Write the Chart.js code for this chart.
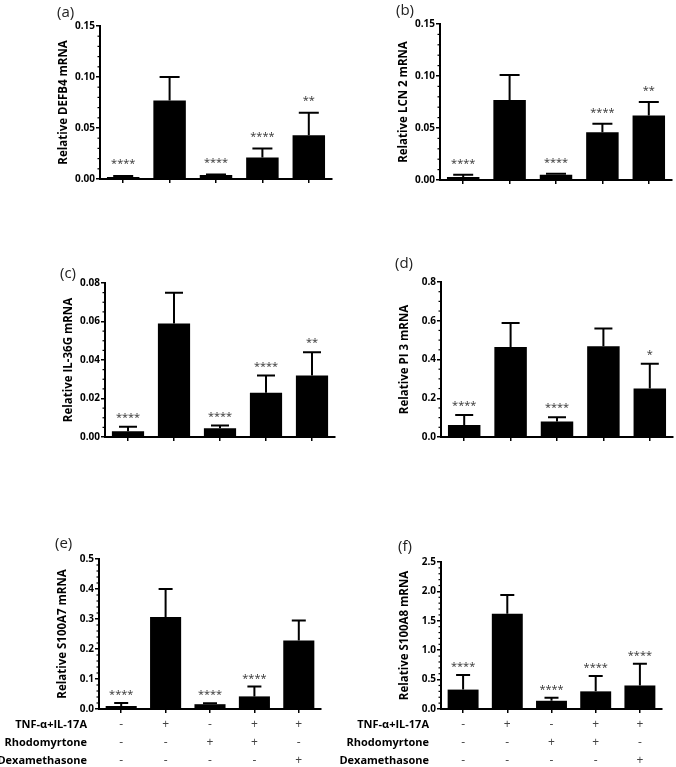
<!DOCTYPE html>
<html><head><meta charset="utf-8">
<script src="https://cdn.jsdelivr.net/npm/chart.js@4"></script>
<style>
html,body{margin:0;padding:0;background:#fff;width:676px;height:767px;overflow:hidden;position:relative;}
canvas{position:absolute;}
.plabel{position:absolute;font-family:"Open Sans",sans-serif;font-size:15px;color:#222;line-height:1;}
</style></head>
<body>
<script>
// ---------- data ----------
const categories = ['G1','G2','G3','G4','G5'];
const tnfRow   = ['-','+','-','+','+'];
const rhodoRow = ['-','-','+','+','-'];
const dexaRow  = ['-','-','-','-','+'];
const rowLabels = ['TNF-\u03B1+IL-17A','Rhodomyrtone','Dexamethasone'];

const defb4Values = [0.002, 0.077, 0.004, 0.021, 0.043];
const defb4Errors = [0.001, 0.023, 0.0005, 0.009, 0.022];
const defb4Stars  = ['****','','****','****','**'];

const lcn2Values = [0.003, 0.077, 0.005, 0.046, 0.062];
const lcn2Errors = [0.002, 0.024, 0.001, 0.008, 0.013];
const lcn2Stars  = ['****','','****','****','**'];

const il36gValues = [0.003, 0.059, 0.0045, 0.023, 0.032];
const il36gErrors = [0.0023, 0.016, 0.0015, 0.009, 0.012];
const il36gStars  = ['****','','****','****','**'];

const pi3Values = [0.062, 0.465, 0.080, 0.468, 0.250];
const pi3Errors = [0.051, 0.123, 0.022, 0.092, 0.128];
const pi3Stars  = ['****','','****','','*'];

const s100a7Values = [0.010, 0.307, 0.016, 0.042, 0.228];
const s100a7Errors = [0.010, 0.093, 0.003, 0.033, 0.067];
const s100a7Stars  = ['****','','****','****',''];

const s100a8Values = [0.33, 1.62, 0.14, 0.30, 0.40];
const s100a8Errors = [0.25, 0.32, 0.05, 0.26, 0.37];
const s100a8Stars  = ['****','','****','****','****'];

// ---------- panels ----------
const panels = [
  {tag:'(a)', lx:57, ly:4,   title:'Relative DEFB4 mRNA',  values:defb4Values, errors:defb4Errors, stars:defb4Stars,
   axisX:100, top:26, bottom:179, right:332, max:0.15, step:0.05, minor:0.01, dec:2, cap:20, starOff:15, table:false},
  {tag:'(b)', lx:396, ly:2,  title:'Relative LCN 2 mRNA',  values:lcn2Values, errors:lcn2Errors, stars:lcn2Stars,
   axisX:440, top:24, bottom:180, right:672, max:0.15, step:0.05, minor:0.01, dec:2, cap:20, starOff:14, table:false},
  {tag:'(c)', lx:60, ly:265, title:'Relative IL-36G mRNA', values:il36gValues, errors:il36gErrors, stars:il36gStars,
   axisX:105, top:283, bottom:437, right:335, max:0.08, step:0.02, minor:0.005, dec:2, cap:18, starOff:12, table:false},
  {tag:'(d)', lx:395, ly:255, title:'Relative PI 3 mRNA',  values:pi3Values, errors:pi3Errors, stars:pi3Stars,
   axisX:441, top:282, bottom:437, right:673, max:0.8, step:0.2, minor:0.05, dec:1, cap:18, starOff:12, table:false},
  {tag:'(e)', lx:55, ly:535, title:'Relative S100A7 mRNA', values:s100a7Values, errors:s100a7Errors, stars:s100a7Stars,
   axisX:99, top:559, bottom:709, right:321, max:0.5, step:0.1, minor:0.02, dec:1, cap:14, starOff:11, table:true},
  {tag:'(f)', lx:398, ly:538, title:'Relative S100A8 mRNA', values:s100a8Values, errors:s100a8Errors, stars:s100a8Stars,
   axisX:441, top:562, bottom:709, right:662, max:2.5, step:0.5, minor:0.1, dec:1, cap:14, starOff:11, table:true}
];

const FONT = '"Open Sans", sans-serif';

const extrasPlugin = {
  id:'extras',
  afterDatasetsDraw(chart){
    const p = chart.config.options.plugins.extras;
    const ctx = chart.ctx;
    const ys = chart.scales.y, xs = chart.scales.x;
    const meta = chart.getDatasetMeta(0);
    ctx.save();
    ctx.strokeStyle = '#000'; ctx.lineWidth = 2;
    meta.data.forEach((el,i)=>{
      const v = p.values[i], e = p.errors[i];
      const yt = ys.getPixelForValue(v+e);
      ctx.beginPath();
      ctx.moveTo(el.x, el.y); ctx.lineTo(el.x, yt);
      ctx.moveTo(el.x - p.cap/2, yt); ctx.lineTo(el.x + p.cap/2, yt);
      ctx.stroke();
      if (p.stars[i]) {
        ctx.fillStyle = '#333';
        ctx.font = '11px ' + FONT;
        ctx.textAlign = 'center'; ctx.textBaseline = 'middle';
        ctx.fillText(p.stars[i], el.x, yt - p.starOff + 3);
      }
    });
    ctx.lineWidth = 1.2;
    const n = Math.round(p.max / p.minor);
    const per = Math.round(p.step / p.minor);
    for (let k=0;k<=n;k++){
      if (k % per === 0) continue;
      const y = ys.getPixelForValue(k*p.minor);
      ctx.beginPath(); ctx.moveTo(chart.chartArea.left-2.5, y); ctx.lineTo(chart.chartArea.left, y); ctx.stroke();
    }
    if (p.table){
      ctx.fillStyle = '#000';
      ctx.font = 'bold 11px ' + FONT;
      ctx.textAlign = 'right'; ctx.textBaseline = 'middle';
      rowLabels.forEach((t,i)=>{
        ctx.fillText(t, chart.chartArea.left - 12, xs.top + 16 + i*18);
      });
    }
    ctx.restore();
  }
};

const OFF = 112, PADL = 66;
panels.forEach(p=>{
  const left = p.axisX - OFF, top = p.top - 10;
  const xH = p.table ? 64 : 8;
  const width = p.right - left + 4;
  const height = p.bottom - top + xH;
  const cv = document.createElement('canvas');
  cv.width = width; cv.height = height;
  cv.style.left = left + 'px'; cv.style.top = top + 'px';
  cv.style.width = width + 'px'; cv.style.height = height + 'px';
  document.body.appendChild(cv);

  const lab = document.createElement('div');
  lab.className = 'plabel'; lab.textContent = p.tag;
  lab.style.left = p.lx + 'px'; lab.style.top = p.ly + 'px';
  document.body.appendChild(lab);

  const labels = p.table
    ? categories.map((c,i)=>[tnfRow[i], rhodoRow[i], dexaRow[i]])
    : categories.map(()=> '');

  new Chart(cv.getContext('2d'), {
    type:'bar',
    data:{ labels, datasets:[{ data:p.values, backgroundColor:'#000', borderWidth:0, barPercentage:0.7, categoryPercentage:1 }] },
    options:{
      responsive:false, animation:false, devicePixelRatio:1,
      layout:{ padding:{ left:PADL, top:10, right:4, bottom:0 } },
      plugins:{ legend:{display:false}, tooltip:{enabled:false},
        extras:{ values:p.values, errors:p.errors, stars:p.stars, cap:p.cap, starOff:p.starOff,
                 max:p.max, step:p.step, minor:p.minor, table:p.table } },
      scales:{
        x:{
          grid:{ display:true, drawOnChartArea:false, drawTicks:true, tickLength:4, color:'#000', lineWidth:1.5, offset:false },
          border:{ display:true, color:'#000', width:2 },
          ticks:{ display:p.table, color:'#444', padding:3, maxRotation:0, autoSkip:false,
                  font:{ family:FONT, size:12, lineHeight:1.5 } },
          afterFit(s){ s.height = xH; }
        },
        y:{
          min:0, max:p.max,
          grid:{ display:true, drawOnChartArea:false, drawTicks:true, tickLength:4, color:'#000', lineWidth:1.5 },
          border:{ display:true, color:'#000', width:2 },
          ticks:{ stepSize:p.step, padding:1, color:'#000',
                  font:{ family:FONT, size:10, weight:'bold' },
                  callback:(v)=> Number(v).toFixed(p.dec) },
          title:{ display:true, text:p.title, color:'#000', padding:{top:3,bottom:3}, font:{ family:FONT, size:11.5, weight:'bold' } },
          afterFit(s){ s.width = OFF - PADL; }
        }
      }
    },
    plugins:[extrasPlugin]
  });
});
</script>
</body></html>
